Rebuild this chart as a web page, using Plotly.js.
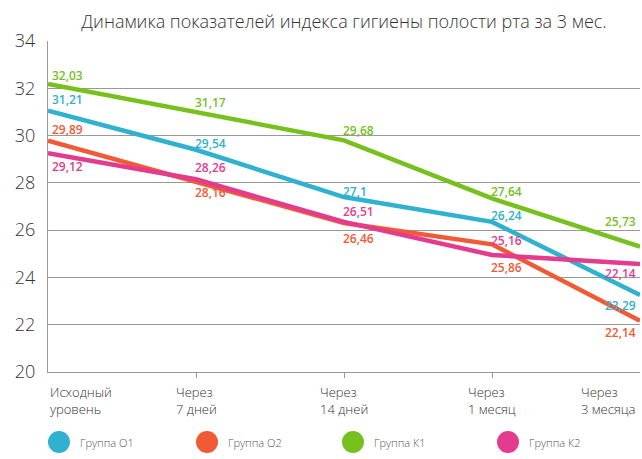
<!DOCTYPE html>
<html>
<head>
<meta charset="utf-8">
<script src="https://cdn.plot.ly/plotly-3.0.1.min.js"></script>
<style>html,body{margin:0;padding:0;background:#fff;}#chart{width:642px;height:459px;}</style>
</head>
<body>
<div id="chart"></div>
<script>
// ---- data ----
var categories = ["Исходный<br>уровень", "Через<br>7 дней", "Через<br>14 дней", "Через<br>1 месяц", "Через<br>3 месяца"];
var seriesNames = ["Группа О1", "Группа О2", "Группа К1", "Группа К2"];
// line values as drawn
var valuesO1 = [31.05, 29.4, 27.4, 26.35, 23.26];
var valuesO2 = [29.78, 28.05, 26.3, 25.4, 22.17];
var valuesK1 = [32.18, 31.0, 29.8, 27.34, 25.3];
var valuesK2 = [29.25, 28.15, 26.35, 24.95, 24.57];
// printed data labels
var labelsO1 = [31.21, 29.54, 27.1, 26.24, 23.29];
var labelsO2 = [29.89, 28.16, 26.46, 25.86, 22.14];
var labelsK1 = [32.03, 31.17, 29.68, 27.64, 25.73];
var labelsK2 = [29.12, 28.26, 26.51, 25.16, 22.14];

// ---- styles ----
var colors = ["#2fb1cf", "#f05a35", "#77c01e", "#e33b8d"];
var labelDy = [ // px, negative = above point
  [-11, -6, -6, -6, 11],
  [-11, 11, 15, 23, 12],
  [-9, -9, -10, -7, -25],
  [13, -12, -10, -14, 10]
];
var legendX = [59, 207, 353, 508];

var values = [valuesO1, valuesO2, valuesK1, valuesK2];
var labels = [labelsO1, labelsO2, labelsK1, labelsK2];
var xs = categories.map(function(c, i){ return i; });

var traces = values.map(function(v, s){
  return {
    x: xs, y: v, type: 'scatter', mode: 'lines', name: seriesNames[s],
    line: {color: colors[s], width: 4.5}, hoverinfo: 'skip', showlegend: false
  };
});

var W = 642, H = 459;
var margin = {l: 48, r: 2, t: 41, b: 87};
var annotations = [];
labels.forEach(function(arr, s){
  arr.forEach(function(val, i){
    var anchor = i === 0 ? 'left' : (i === xs.length - 1 ? 'right' : 'left');
    var xshift = i === 0 ? 2 : (i === xs.length - 1 ? -2 : -3);
    annotations.push({
      x: xs[i], y: values[s][i], xref: 'x', yref: 'y',
      text: String(val).replace('.', ','), showarrow: false,
      xanchor: anchor, yanchor: 'middle', xshift: xshift, yshift: -labelDy[s][i],
      font: {family: 'Open Sans, sans-serif', size: 12, color: colors[s], weight: 600}
    });
  });
});
// category labels
categories.forEach(function(c, i){
  var anchor = i === 0 ? 'left' : (i === categories.length - 1 ? 'right' : 'center');
  annotations.push({
    x: xs[i], xref: 'x', y: -(381 - 372) / (H - margin.t - margin.b), yref: 'paper', text: c, showarrow: false,
    xanchor: anchor, yanchor: 'top', align: 'left', xshift: (i === categories.length - 1 ? -3 : 0),
    font: {family: 'Open Sans, sans-serif', size: 13, color: '#333', weight: 300}
  });
});

var shapes = [];
seriesNames.forEach(function(n, s){
  var cx = legendX[s], cy = 442, r = 11;
  shapes.push({
    type: 'circle', xref: 'paper', yref: 'paper',
    x0: (cx - r - margin.l) / (W - margin.l - margin.r), x1: (cx + r - margin.l) / (W - margin.l - margin.r),
    y0: (H - margin.b - (cy + r)) / (H - margin.t - margin.b), y1: (H - margin.b - (cy - r)) / (H - margin.t - margin.b),
    fillcolor: colors[s], line: {width: 0}
  });
  annotations.push({
    xref: 'paper', yref: 'paper',
    x: (cx + 19 - margin.l) / (W - margin.l - margin.r),
    y: (H - margin.b - cy) / (H - margin.t - margin.b),
    text: n, showarrow: false, xanchor: 'left', yanchor: 'middle',
    font: {family: 'Open Sans, sans-serif', size: 11, color: '#555', weight: 300}
  });
});

var layout = {
  width: W, height: H, margin: margin,
  paper_bgcolor: '#fff', plot_bgcolor: '#fff',
  title: {text: 'Динамика показателей индекса гигиены полости рта за 3 мес.',
          font: {family: 'Open Sans, sans-serif', size: 18, color: '#333', weight: 300},
          x: 344 / W, xanchor: 'center', y: 1 - 22 / H, yanchor: 'middle'},
  xaxis: {range: [0, 4], showgrid: false, zeroline: false, showline: true, linecolor: '#999', linewidth: 1,
          tickvals: [1, 2, 3], ticktext: ['', '', ''], ticks: 'outside', ticklen: 5, tickcolor: '#999', fixedrange: true},
  yaxis: {range: [20, 34], dtick: 2, tick0: 20, showgrid: true, gridcolor: '#999', gridwidth: 1, zeroline: false,
          showline: true, linecolor: '#999', linewidth: 1, ticks: '', ticklabelstandoff: 8,
          tickfont: {family: 'Open Sans, sans-serif', size: 18, color: '#333', weight: 300}},
  showlegend: false, annotations: annotations, shapes: shapes
};

Plotly.newPlot('chart', traces, layout, {displayModeBar: false, staticPlot: true});
</script>
</body>
</html>
